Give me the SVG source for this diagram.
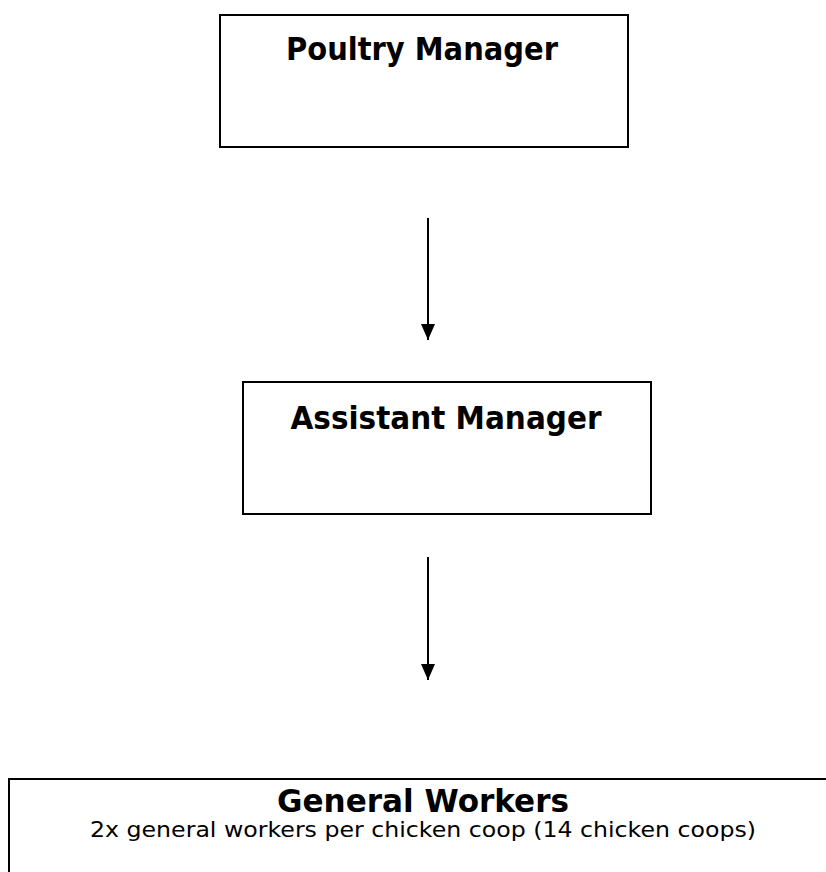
<svg xmlns="http://www.w3.org/2000/svg" width="826" height="872" viewBox="0 0 826 872">
<defs>
<marker id="arr" viewBox="0 0 16 14" refX="16" refY="7" markerWidth="16" markerHeight="14" markerUnits="userSpaceOnUse" orient="auto">
<path d="M0,0 L16,7 L0,14 Z" fill="#000"/>
</marker>
<style>
.box{fill:#fff;stroke:#000;stroke-width:2}
.t{font-family:"DejaVu Sans",Tahoma,sans-serif;font-weight:bold;font-size:32px;fill:#000;text-anchor:middle}
.s{font-family:"DejaVu Sans",Tahoma,sans-serif;font-size:22px;fill:#000;text-anchor:middle}
.c{stroke:#000;stroke-width:2;fill:none}
</style>
</defs>
<rect width="826" height="872" fill="#fff"/>
<g id="poultry-manager">
<rect class="box" x="220" y="15" width="408" height="132"/>
<text class="t" x="422" y="60" textLength="272" lengthAdjust="spacingAndGlyphs">Poultry Manager</text>
</g>
<g id="assistant-manager">
<rect class="box" x="243" y="382" width="408" height="132"/>
<text class="t" x="446" y="429" textLength="311" lengthAdjust="spacingAndGlyphs">Assistant Manager</text>
</g>
<g id="general-workers">
<rect class="box" x="9" y="779" width="830" height="120"/>
<text class="t" x="423" y="812" textLength="292" lengthAdjust="spacingAndGlyphs">General Workers</text>
<text class="s" x="423" y="837" textLength="666" lengthAdjust="spacingAndGlyphs">2x general workers per chicken coop (14 chicken coops)</text>
</g>
<g id="connectors">
<line class="c" x1="428" y1="218" x2="428" y2="340" marker-end="url(#arr)"/>
<line class="c" x1="428" y1="557" x2="428" y2="680" marker-end="url(#arr)"/>
</g>
</svg>
